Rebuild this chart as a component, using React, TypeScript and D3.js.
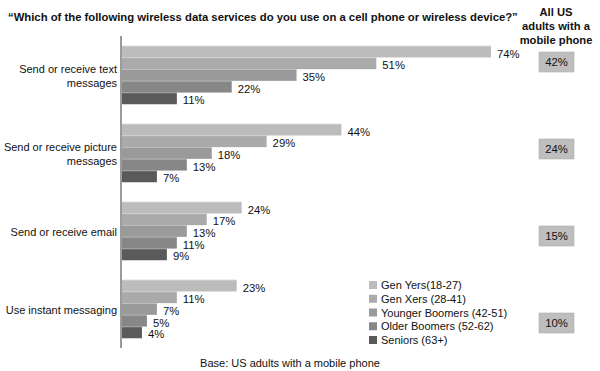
import React from "react";
import * as d3 from "d3";

const categories = [
  ["Send or receive text", "messages"],
  ["Send or receive picture", "messages"],
  ["Send or receive email"],
  ["Use instant messaging"],
];
const seriesNames = [
  "Gen Yers(18-27)",
  "Gen Xers (28-41)",
  "Younger Boomers (42-51)",
  "Older Boomers (52-62)",
  "Seniors (63+)",
];
const genYers = [74, 44, 24, 23];
const genXers = [51, 29, 17, 11];
const youngerBoomers = [35, 18, 13, 7];
const olderBoomers = [22, 13, 11, 5];
const seniors = [11, 7, 9, 4];
const allAdults = [42, 24, 15, 10];
const colors = ["#bcbcbc", "#aaaaaa", "#9a9a9a", "#878787", "#5a5a5a"];

const series = [genYers, genXers, youngerBoomers, olderBoomers, seniors];

export default function App() {
  const W = 600;
  const H = 371;
  const font = "Liberation Sans, Arial, sans-serif";
  const x = d3.scaleLinear().domain([0, 74]).range([122, 491]);
  const idx = categories.map((_, i) => i);
  const y = d3.scaleBand<number>().domain(idx).range([36, 348]).paddingInner(0.25).paddingOuter(0.125);
  const inner = d3.scaleBand<number>().domain(seriesNames.map((_, i) => i)).range([0, y.bandwidth()]);
  const yBox = d3.scalePoint<number>().domain(idx).range([62, 323]);
  const legendY = d3.scalePoint<number>().domain(seriesNames.map((_, i) => i)).range([285, 340]);

  return (
    <svg width={W} height={H} style={{ position: "absolute", left: 0, top: 0, background: "#fff" }} fontFamily={font}>
      <rect x={0} y={0} width={W} height={H} fill="#fff" />
      <text x={8} y={21} fontSize={11.3} fontWeight="bold" fill="#111">
        “Which of the following wireless data services do you use on a cell phone or wireless device?”
      </text>
      <g fontSize={11.2} fontWeight="bold" fill="#111" textAnchor="middle">
        <text x={556} y={16}>All US</text>
        <text x={556} y={30}>adults with a</text>
        <text x={556} y={44}>mobile phone</text>
      </g>
      {idx.map((ci) => (
        <g key={ci}>
          {series.map((vals, si) => {
            const yy = (y(ci) as number) + (inner(si) as number);
            return (
              <g key={si}>
                <rect x={x(0)} y={yy} width={x(vals[ci]) - x(0)} height={inner.bandwidth()} fill={colors[si]} />
                <rect x={x(0)} y={yy} width={x(vals[ci]) - x(0)} height={0.8} fill="#ffffff" opacity={0.35} />
                <text x={x(vals[ci]) + 6} y={yy + inner.bandwidth() / 2 + 6} fontSize={11.3} fill="#111">
                  {vals[ci]}%
                </text>
              </g>
            );
          })}
          {categories[ci].map((line, li) => {
            const n = categories[ci].length;
            const cy = (y(ci) as number) + y.bandwidth() / 2;
            return (
              <text key={li} x={117} y={cy + 5 + (li - (n - 1) / 2) * 14} fontSize={11} fill="#111" textAnchor="end">
                {line}
              </text>
            );
          })}
          <rect x={539} y={(yBox(ci) as number) - 10} width={35} height={20} fill="#bebebe" stroke="#b0b0b0" strokeWidth={0.6} />
          <text x={556.5} y={(yBox(ci) as number) + 4} fontSize={11.3} fill="#111" textAnchor="middle">
            {allAdults[ci]}%
          </text>
        </g>
      ))}
      <line x1={121} x2={121} y1={36} y2={348} stroke="#7a7a7a" strokeWidth={1.5} />
      {seriesNames.map((name, si) => (
        <g key={si}>
          <rect x={369} y={(legendY(si) as number) - 4} width={8} height={8} fill={colors[si]} />
          <text x={381} y={(legendY(si) as number) + 4} fontSize={11} fill="#111">
            {name}
          </text>
        </g>
      ))}
      <text x={290} y={367} fontSize={11} fill="#111" textAnchor="middle">
        Base: US adults with a mobile phone
      </text>
    </svg>
  );
}
